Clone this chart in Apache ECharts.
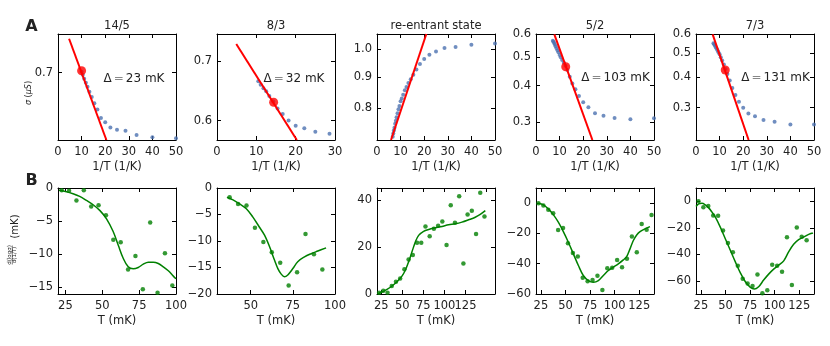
<!DOCTYPE html>
<html>
<head>
<meta charset="utf-8">
<script src="https://cdn.jsdelivr.net/npm/echarts@6.0.0/dist/echarts.min.js"></script>
<style>
  html, body { margin: 0; padding: 0; background: #fff; }
  #chart { width: 830px; height: 346px; }
</style>
</head>
<body>
<div id="chart"></div>
<script>
// ---- row A : sigma (uS) vs 1/T (1/K), log y ----
const titlesA = ["14/5", "8/3", "re-entrant state", "5/2", "7/3"];
const gapLabels = ["23", "32", "", "103", "131"];

const invT1 = [10, 10.5, 11.1, 11.8, 12.5, 13.3, 14.3, 15.4, 16.7, 18.2, 20, 22.2, 25, 28.6, 33.3, 40, 50];
const sigma1 = [0.701, 0.698, 0.694, 0.690, 0.686, 0.681, 0.676, 0.670, 0.664, 0.656, 0.652, 0.647, 0.645, 0.644, 0.640, 0.638, 0.637];
const fitLine1 = [[4.7, 0.735], [20.5, 0.6355]];
const fitDot1 = [10, 0.702];

const invT2 = [10.5, 11.1, 11.8, 12.5, 13.3, 14.3, 15.4, 16.7, 18.2, 20, 22.2, 25, 28.6];
const sigma2 = [0.664, 0.658, 0.652, 0.647, 0.639, 0.630, 0.619, 0.610, 0.600, 0.592, 0.588, 0.583, 0.580];
const fitLine2 = [[4.9, 0.731], [20.3, 0.5706]];
const fitDot2 = [14.4, 0.629];

const invT3 = [6.67, 6.9, 7.14, 7.4, 7.7, 8.0, 8.3, 8.7, 9.1, 9.5, 10, 10.5, 11.1, 11.8, 12.5, 13.3, 14.3, 15.4, 16.7, 18.2, 20, 22.2, 25, 28.6, 33.3, 40, 50];
const sigma3 = [0.718, 0.727, 0.735, 0.743, 0.754, 0.763, 0.773, 0.785, 0.797, 0.807, 0.821, 0.830, 0.842, 0.856, 0.867, 0.880, 0.893, 0.908, 0.926, 0.946, 0.964, 0.980, 0.992, 1.005, 1.009, 1.018, 1.022];
const fitLine3 = [[5.93, 0.709], [20.9, 1.06]];

const invT4 = [7.14, 7.4, 7.7, 8.0, 8.3, 8.7, 9.1, 9.5, 10, 10.5, 11.1, 11.8, 12.5, 13.3, 14.3, 15.4, 16.7, 18.2, 20, 22.2, 25, 28.6, 33.3, 40, 50];
const sigma4 = [0.569, 0.565, 0.559, 0.552, 0.545, 0.536, 0.528, 0.520, 0.509, 0.4995, 0.489, 0.479, 0.468, 0.452, 0.429, 0.407, 0.389, 0.369, 0.351, 0.3375, 0.322, 0.316, 0.310, 0.307, 0.3095];
const fitLine4 = [[7.77, 0.5985], [23.9, 0.261]];
const fitDot4 = [12.6, 0.464];

const invT5 = [7.4, 7.7, 8.0, 8.3, 8.7, 9.1, 9.5, 10, 10.5, 11.1, 11.8, 12.5, 13.3, 14.3, 15.4, 16.7, 18.2, 20, 22.2, 25, 28.6, 33.3, 40, 50];
const sigma5 = [0.550, 0.545, 0.538, 0.531, 0.523, 0.515, 0.505, 0.496, 0.482, 0.468, 0.450, 0.432, 0.412, 0.387, 0.361, 0.338, 0.317, 0.300, 0.284, 0.277, 0.267, 0.263, 0.256, 0.256];
const fitLine5 = [[7.06, 0.598], [22.3, 0.2213]];
const fitDot5 = [12.4, 0.4277];

const xRangeA = [[0, 50], [0, 30], [0, 50], [0, 50], [0, 50]];
const xTicksA = [[0, 10, 20, 30, 40, 50], [0, 10, 20, 30], [0, 10, 20, 30, 40, 50], [0, 10, 20, 30, 40, 50], [0, 10, 20, 30, 40, 50]];
const yRangeA = [[0.6355, 0.74], [0.5706, 0.75], [0.709, 1.06], [0.261, 0.6], [0.2213, 0.6]];
const yTicksA = [[0.7], [0.6, 0.7], [0.8, 0.9, 1.0], [0.3, 0.4, 0.5, 0.6], [0.3, 0.4, 0.5, 0.6]];

// ---- row B : d(log sigma)/d(1/T) (mK) vs T (mK) ----
const bT1 = [22.5, 27.5, 32.5, 37.5, 42.5, 47.5, 52.5, 57.5, 62.5, 67.5, 72.5, 77.5, 82.5, 87.5, 92.5, 97.5];
const bD1 = [-0.35, -0.4, -1.9, -0.35, -2.8, -2.6, -4.1, -7.8, -8.2, -12.3, -10.25, -15.3, -5.2, -15.8, -9.85, -14.7];
const fitT1 = [20.7, 25.7, 30.2, 34.7, 39.3, 43.8, 48.3, 52.9, 57.4, 60.8, 64.2, 67.6, 71.0, 74.4, 77.8, 81.2, 84.6, 88.0, 91.4, 94.8, 98.2, 100];
const fitD1 = [-0.35, -0.56, -0.86, -1.26, -1.87, -2.53, -3.38, -4.65, -6.57, -8.6, -10.6, -11.9, -12.2, -12.0, -11.5, -11.2, -11.2, -11.4, -11.9, -12.5, -13.3, -13.7];

const bT2 = [37.5, 42.5, 47.5, 52.5, 57.5, 62.5, 67.5, 72.5, 77.5, 82.5, 87.5, 92.5];
const bD2 = [-1.75, -3.0, -3.3, -7.5, -10.2, -12.1, -14.1, -18.4, -15.9, -8.7, -12.5, -15.4];
const fitT2 = [35.9, 39.5, 43.4, 47.4, 51.3, 55.2, 58.2, 61.2, 64.1, 66.1, 68.1, 70.0, 72.0, 75.0, 77.9, 81.9, 85.8, 89.8, 94.7];
const fitD2 = [-1.75, -2.25, -3.0, -3.9, -5.5, -7.4, -8.9, -11.1, -13.6, -15.2, -16.25, -16.75, -16.4, -15.2, -13.9, -13.0, -12.4, -11.9, -11.3];

const bT3 = [22.5, 27.5, 32.5, 37.5, 42.5, 47.5, 52.5, 57.5, 62.5, 67.5, 72.5, 77.5, 82.5, 87.5, 92.5, 97.5, 102.5, 107.5, 112.5, 117.5, 122.5, 127.5, 132.5, 137.5, 142.5, 147.5];
const bD3 = [0.56, 1.4, 0.56, 3.4, 5.2, 6.6, 10.5, 14.6, 16.6, 21.8, 21.8, 28.7, 24.5, 27.7, 29.0, 30.8, 20.8, 37.7, 30.2, 41.5, 12.9, 33.8, 35.3, 25.5, 43.0, 32.9];
const fitT3 = [20.8, 25.9, 31.9, 37.8, 43.7, 49.6, 53.6, 57.5, 61.5, 65.5, 69.4, 75.3, 81.3, 89.2, 97.1, 105.0, 112.9, 120.8, 128.7, 136.6, 142.5, 148.5];
const fitD3 = [0, 0.84, 1.97, 3.4, 5.2, 7.6, 10.1, 13.6, 17.9, 22.1, 24.9, 26.6, 27.4, 28.1, 28.7, 29.4, 29.8, 30.5, 31.5, 32.6, 33.8, 35.4];

const bT4 = [22.5, 27.5, 32.5, 37.5, 42.5, 47.5, 52.5, 57.5, 62.5, 67.5, 72.5, 77.5, 82.5, 87.5, 92.5, 97.5, 102.5, 107.5, 112.5, 117.5, 122.5, 127.5, 132.5, 137.5];
const bD4 = [0, -1.6, -4.3, -6.7, -17.7, -16.4, -26.5, -32.9, -35.3, -49.2, -51.5, -50.7, -48.0, -57.3, -43.0, -42.7, -37.5, -42.3, -36.8, -22.1, -32.4, -13.7, -17.5, -7.8];
const fitT4 = [22.4, 27.5, 32.5, 37.6, 42.7, 47.8, 52.9, 58.0, 63.1, 68.1, 73.2, 78.3, 83.4, 88.5, 93.6, 98.6, 103.7, 108.8, 112.2, 115.6, 119.0, 122.4, 125.8, 130.8, 135.9];
const fitD4 = [-0.1, -1.2, -3.8, -7.6, -12.6, -18.8, -25.8, -33.5, -41.2, -47.8, -51.1, -52.2, -51.1, -47.8, -44.5, -42.3, -40.1, -37.5, -35.3, -30.2, -24.7, -21.0, -18.8, -17.0, -15.5];

const bT5 = [22.5, 27.5, 32.5, 37.5, 42.5, 47.5, 52.5, 57.5, 62.5, 67.5, 72.5, 77.5, 82.5, 87.5, 92.5, 97.5, 102.5, 107.5, 112.5, 117.5, 122.5, 127.5, 132.5];
const bD5 = [0, -4.5, -3.5, -10.75, -11.0, -22.0, -31.5, -38.5, -48.75, -58.5, -62.0, -64.0, -55.25, -69.5, -67.25, -48.0, -48.75, -53.25, -27.25, -63.25, -19.75, -26.75, -29.5];
const fitT5 = [20, 22.7, 26.1, 29.5, 32.9, 36.3, 39.7, 44.7, 49.8, 54.9, 60.0, 65.1, 70.2, 75.3, 79.3, 83.7, 88.8, 93.9, 99.0, 104.1, 109.2, 114.2, 119.3, 124.4, 129.5, 134.6, 139.0];
const fitD5 = [-4.0, -2.0, -1.5, -2.75, -5.0, -8.25, -12.0, -19.5, -28.25, -37.0, -45.75, -54.0, -60.75, -65.0, -66.25, -64.5, -59.5, -55.0, -51.25, -48.25, -45.0, -38.25, -32.5, -29.0, -27.0, -25.0, -24.0];

const xRangeB = [[20, 100], [30, 100], [20, 160], [20, 140], [20, 140]];
const xTicksB = [[25, 50, 75, 100], [50, 75, 100], [25, 50, 75, 100, 125, 150], [25, 50, 75, 100, 125], [25, 50, 75, 100, 125]];
const yRangeB = [[-16, 0], [-20, 0], [0, 45], [-60, 10], [-70, 10]];
const yTicksB = [[-15, -10, -5, 0], [-20, -15, -10, -5, 0], [0, 20, 40], [-60, -40, -20, 0], [-60, -40, -20, 0]];

const FONT = '"DejaVu Sans", sans-serif';
const TEXT = "#222";
const BLUE = "#4c72b0";
const RED = "#ff0000";
const GREEN = "#008000";
const lefts = [58, 217, 377, 536, 696];
const panelW = 118;
const rowTop = [34, 188];
const panelH = 106;

const chart = echarts.init(document.getElementById("chart"));

const grids = [];
const xAxes = [];
const yAxes = [];
const series = [];
const graphics = [];

const lineStyle = { color: "#000", width: 1 };
const minus = (v) => String(v).replace("-", "\u2212");

function addAxes(gi, xr, xt, yr, yt, yFmt) {
  ["bottom", "top"].forEach((pos, k) => {
    xAxes.push({
      type: "value", gridIndex: gi, position: pos, min: xr[0], max: xr[1],
      axisLine: { show: true, onZero: false, lineStyle },
      axisTick: { show: true, inside: true, length: 4, customValues: xt, lineStyle },
      axisLabel: { show: k === 0, customValues: xt, margin: 6, color: TEXT, fontSize: 11.5, fontFamily: FONT, formatter: minus },
      splitLine: { show: false },
    });
  });
  ["left", "right"].forEach((pos, k) => {
    yAxes.push({
      type: "value", gridIndex: gi, position: pos, min: yr[0], max: yr[1],
      axisLine: { show: true, onZero: false, lineStyle },
      axisTick: { show: true, inside: true, length: 4, customValues: yt, lineStyle },
      axisLabel: { show: k === 0, customValues: yt, margin: 5, color: TEXT, fontSize: 11.5, fontFamily: FONT, formatter: yFmt },
      splitLine: { show: false },
    });
  });
}

const log = (s) => Math.log10(s);
const rowA = [
  [invT1, sigma1, fitLine1, fitDot1],
  [invT2, sigma2, fitLine2, fitDot2],
  [invT3, sigma3, fitLine3, null],
  [invT4, sigma4, fitLine4, fitDot4],
  [invT5, sigma5, fitLine5, fitDot5],
];
const rowB = [
  [bT1, bD1, fitT1, fitD1],
  [bT2, bD2, fitT2, fitD2],
  [bT3, bD3, fitT3, fitD3],
  [bT4, bD4, fitT4, fitD4],
  [bT5, bD5, fitT5, fitD5],
];

rowA.forEach(([xs, ys, fitLine, fitDot], i) => {
  const gi = grids.length;
  grids.push({ left: lefts[i], top: rowTop[0], width: panelW, height: panelH, containLabel: false });
  addAxes(gi, xRangeA[i], xTicksA[i], yRangeA[i].map(log), yTicksA[i].map(log),
    (v) => Math.pow(10, v).toFixed(1));
  series.push({
    type: "scatter", xAxisIndex: 2 * gi, yAxisIndex: 2 * gi, symbolSize: 4,
    itemStyle: { color: BLUE }, data: xs.map((x, j) => [x, log(ys[j])]),
  });
  series.push({
    type: "line", xAxisIndex: 2 * gi, yAxisIndex: 2 * gi, showSymbol: false,
    lineStyle: { color: RED, width: 2 }, data: fitLine.map((p) => [p[0], log(p[1])]),
  });
  if (fitDot) {
    series.push({
      type: "scatter", xAxisIndex: 2 * gi, yAxisIndex: 2 * gi, symbolSize: 9,
      itemStyle: { color: RED }, data: [[fitDot[0], log(fitDot[1])]],
    });
  }
});

rowB.forEach(([xs, ys, fx, fy], i) => {
  const gi = grids.length;
  grids.push({ left: lefts[i], top: rowTop[1], width: panelW, height: panelH, containLabel: false });
  addAxes(gi, xRangeB[i], xTicksB[i], yRangeB[i], yTicksB[i], minus);
  series.push({
    type: "scatter", xAxisIndex: 2 * gi, yAxisIndex: 2 * gi, symbolSize: 4.5,
    itemStyle: { color: GREEN }, data: xs.map((x, j) => [x, ys[j]]),
  });
  series.push({
    type: "line", xAxisIndex: 2 * gi, yAxisIndex: 2 * gi, showSymbol: false, smooth: 0.35,
    lineStyle: { color: GREEN, width: 1.5 }, data: fx.map((x, j) => [x, fy[j]]),
  });
});

function txt(x, y, text, size, extra) {
  return Object.assign({
    type: "text", x, y, silent: true,
    style: { text, fill: TEXT, font: size + "px " + FONT, align: "center", verticalAlign: "middle" },
  }, extra || {});
}

graphics.push(txt(31.5, 26.5, "A", 0, { style: { text: "A", fill: TEXT, font: "bold 16px " + FONT, align: "center", verticalAlign: "middle" } }));
graphics.push(txt(31.5, 181, "B", 0, { style: { text: "B", fill: TEXT, font: "bold 16px " + FONT, align: "center", verticalAlign: "middle" } }));

lefts.forEach((l, i) => {
  const cx = l + panelW / 2;
  graphics.push(txt(cx, 26, titlesA[i], 11.5));
  graphics.push(txt(cx, 167, "1/T (1/K)", 11.5));
  graphics.push(txt(cx, 321.5, "T (mK)", 11.5));
});

const gapPos = [[134, 79], [294, 79], null, [615.5, 78], [775.5, 78]];
gapLabels.forEach((g, i) => {
  if (!g) return;
  graphics.push({
    type: "text", x: gapPos[i][0], y: gapPos[i][1], silent: true,
    style: {
      text: "{a|\u0394}{b|=}{a|" + g + " mK}", align: "center", verticalAlign: "middle",
      rich: {
        a: { fontSize: 12, fontFamily: FONT, fill: TEXT, color: TEXT },
        b: { fontSize: 12, fontFamily: FONT, fill: "#888", color: "#888", padding: [0, 2, 0, 2] },
      },
    },
  });
});

// y labels
graphics.push({
  type: "text", x: 28.5, y: 93, rotation: Math.PI / 2, silent: true,
  style: {
    text: "{i|\u03c3} ({i|\u03bcS})", align: "center", verticalAlign: "middle",
    font: "8px " + FONT, fill: TEXT,
    rich: { i: { fontSize: 8, fontFamily: FONT, fontStyle: "italic", fill: TEXT, color: TEXT } },
  },
});
graphics.push(txt(15, 226.5, "(mK)", 10, { rotation: Math.PI / 2 }));
graphics.push(txt(9.5, 255, "d(log\u03c3)", 5.5, { rotation: Math.PI / 2 }));
graphics.push(txt(15, 255, "d(1/T)", 5.5, { rotation: Math.PI / 2 }));
graphics.push({
  type: "line", silent: true,
  shape: { x1: 12.3, y1: 245.5, x2: 12.3, y2: 264.5 },
  style: { stroke: TEXT, lineWidth: 0.6 },
});

chart.setOption({
  animation: false,
  grid: grids,
  xAxis: xAxes,
  yAxis: yAxes,
  series,
  graphic: graphics,
});
</script>
</body>
</html>
